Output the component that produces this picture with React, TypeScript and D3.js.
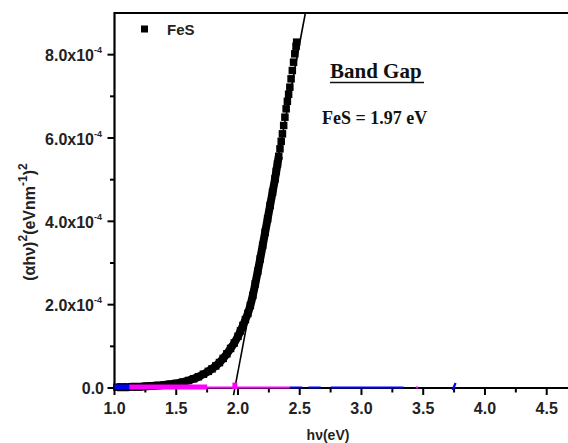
import React from "react";
import * as d3 from "d3";

// ---- data (y values in units of 1e-4) ----
const hv: number[] = [
  1.02, 1.06, 1.1, 1.14, 1.18, 1.2, 1.25, 1.3, 1.35, 1.4, 1.45, 1.5, 1.55, 1.6, 1.64, 1.68,
  1.72, 1.76, 1.79, 1.82, 1.85, 1.88, 1.91, 1.94, 1.97, 2.0, 2.02, 2.04, 2.06, 2.08, 2.1,
  2.12, 2.14, 2.16, 2.18, 2.2, 2.22, 2.24, 2.26, 2.28, 2.3, 2.31, 2.32, 2.33, 2.34, 2.35,
  2.36, 2.37, 2.38, 2.39, 2.4, 2.41, 2.42, 2.43, 2.44, 2.45, 2.46, 2.47, 2.475,
];
const ahv2: number[] = [
  0.02, 0.02, 0.02, 0.03, 0.03, 0.03, 0.04, 0.05, 0.06, 0.07, 0.09, 0.11, 0.14, 0.18, 0.22, 0.27,
  0.33, 0.4, 0.46, 0.53, 0.61, 0.71, 0.82, 0.95, 1.08, 1.24, 1.37, 1.5, 1.64, 1.79, 1.98,
  2.22, 2.5, 2.8, 3.1, 3.42, 3.74, 4.06, 4.38, 4.7, 5.02, 5.2, 5.38, 5.56, 5.74, 5.92,
  6.1, 6.3, 6.5, 6.7, 6.88, 7.05, 7.22, 7.42, 7.62, 7.82, 8.02, 8.2, 8.3,
];

// linear fit (band gap extrapolation)
const fitIntercept = 1.975; // eV
const fitSlope = 15.77; // (x1e-4) per eV
const fitRange: number[] = [-0.17, 9];

// other near-zero traces along baseline [start, end] in eV
const blueThick: number[][] = [[1.0, 1.12]];
const magentaThick: number[][] = [[1.12, 1.75]];
const magentaThin: number[][] = [[1.75, 2.42], [3.44, 3.46]];
const blueThin: number[][] = [[2.42, 2.52], [2.57, 2.67], [2.75, 2.93], [2.93, 3.26], [3.26, 3.34]];
const magentaBumps: number[][] = [[1.955, 1.995, 0.13]];
const blueMarks: number[] = [3.75];

const xMajor: number[] = [1.0, 1.5, 2.0, 2.5, 3.0, 3.5, 4.0, 4.5];
const xMinor: number[] = [1.25, 1.75, 2.25, 2.75, 3.25, 3.75, 4.25];
const yMajor: number[] = [0, 2, 4, 6, 8];
const yMinor: number[] = [1, 3, 5, 7];

const W = 568;
const H = 443;
const SANS = "'Liberation Sans', Arial, sans-serif";
const SERIF = "'Liberation Serif', 'Times New Roman', serif";

export default function App() {
  const x = d3.scaleLinear().domain([1.0, 4.5]).range([114.5, 546.7]);
  const y = d3.scaleLinear().domain([0, 9]).range([388, 13]);
  const x0 = x(1.0);
  const y0 = y(0);
  const yTop = y(9);

  const fitLine = d3
    .line<number>()
    .x((v) => x(fitIntercept + v / fitSlope))
    .y((v) => y(v));

  const pts = hv.map((h, i) => [h, ahv2[i]] as [number, number]);
  const dataLine = d3
    .line<[number, number]>()
    .x((d) => x(d[0]))
    .y((d) => y(d[1]))
    .curve(d3.curveMonotoneX);
  const densePts = pts.filter((d) => d[0] <= 2.33);

  const sq = 7.5;

  return (
    <svg
      width={W}
      height={H}
      style={{ position: "absolute", left: 0, top: 0, background: "#fff" }}
    >
      <rect x={0} y={0} width={W} height={H} fill="#fff" />

      {/* data: dense scan rendered as overlapping squares */}
      <path d={dataLine(densePts) || ""} stroke="#000" strokeWidth={8} fill="none" />
      {pts.map((d, i) => (
        <rect
          key={"d" + i}
          x={x(d[0]) - sq / 2}
          y={y(d[1]) - sq / 2}
          width={sq}
          height={sq}
          fill="#000"
        />
      ))}

      {/* fit line */}
      <path d={fitLine(fitRange) || ""} stroke="#000" strokeWidth={1.6} fill="none" />

      {/* axes */}
      <line x1={x0} x2={W} y1={yTop} y2={yTop} stroke="#000" strokeWidth={2} />
      <line x1={x0} x2={W} y1={y0} y2={y0} stroke="#000" strokeWidth={2.2} />
      <line x1={x0} x2={x0} y1={yTop - 1} y2={y0 + 1} stroke="#000" strokeWidth={2.2} />

      {/* x ticks */}
      {xMajor.map((t) => (
        <g key={"xm" + t}>
          <line x1={x(t)} x2={x(t)} y1={y0} y2={y0 + 7} stroke="#000" strokeWidth={2} />
          <text
            x={x(t)}
            y={y0 + 26}
            textAnchor="middle"
            fontFamily={SANS}
            fontWeight="bold"
            fontSize={16}
            fill="#222"
          >
            {t.toFixed(1)}
          </text>
        </g>
      ))}
      {xMinor.map((t) => (
        <line key={"xn" + t} x1={x(t)} x2={x(t)} y1={y0} y2={y0 + 4.5} stroke="#000" strokeWidth={2} />
      ))}

      {/* y ticks */}
      {yMajor.map((t) => (
        <g key={"ym" + t}>
          <line x1={x0} x2={x0 - 7} y1={y(t)} y2={y(t)} stroke="#000" strokeWidth={2} />
          {t === 0 ? (
            <text
              x={104}
              y={y(t) + 5.5}
              textAnchor="end"
              fontFamily={SANS}
              fontWeight="bold"
              fontSize={16}
              fill="#222"
            >
              0.0
            </text>
          ) : (
            <text
              x={102}
              y={y(t) + 6.5}
              textAnchor="end"
              fontFamily={SANS}
              fontWeight="bold"
              fontSize={16}
              fill="#222"
            >
              {t.toFixed(1) + "x10"}
              <tspan fontSize={9} dy={-8}>
                -4
              </tspan>
            </text>
          )}
        </g>
      ))}
      {yMinor.map((t) => (
        <line key={"yn" + t} x1={x0} x2={x0 - 4.5} y1={y(t)} y2={y(t)} stroke="#000" strokeWidth={2} />
      ))}

      {/* baseline traces */}
      {blueThick.map((s, i) => (
        <rect key={"bt" + i} x={x(s[0])} y={y0 - 3.5} width={x(s[1]) - x(s[0])} height={5} fill="#0000ff" />
      ))}
      {magentaThick.map((s, i) => (
        <rect key={"mt" + i} x={x(s[0])} y={y0 - 3.5} width={x(s[1]) - x(s[0])} height={5} fill="#ff00ff" />
      ))}
      {magentaThin.map((s, i) => (
        <line key={"mn" + i} x1={x(s[0])} x2={x(s[1])} y1={y0 - 0.5} y2={y0 - 0.5} stroke="#ff00ff" strokeWidth={2} />
      ))}
      {blueThin.map((s, i) => (
        <line key={"bn" + i} x1={x(s[0])} x2={x(s[1])} y1={y0 - 0.5} y2={y0 - 0.5} stroke="#0000ff" strokeWidth={2} />
      ))}
      {magentaBumps.map((s, i) => (
        <rect key={"mb" + i} x={x(s[0])} y={y(s[2])} width={x(s[1]) - x(s[0])} height={y0 - y(s[2]) + 1} fill="#ff00ff" />
      ))}
      {blueMarks.map((m, i) => (
        <line key={"bm" + i} x1={x(m) - 1.5} x2={x(m) + 1.5} y1={y0 + 2} y2={y0 - 5} stroke="#0000ff" strokeWidth={2.2} />
      ))}

      {/* legend */}
      <rect x={141} y={25.5} width={7} height={7} fill="#000" />
      <text x={167} y={34.5} fontFamily={SANS} fontWeight="bold" fontSize={15} fill="#222">
        FeS
      </text>

      {/* annotation */}
      <text x={330} y={78} fontFamily={SERIF} fontWeight="bold" fontSize={21} fill="#111">
        Band Gap
      </text>
      <line x1={330} x2={424} y1={82.5} y2={82.5} stroke="#111" strokeWidth={1.5} />
      <text x={322} y={124} fontFamily={SERIF} fontWeight="bold" fontSize={18} fill="#111">
        FeS = 1.97 eV
      </text>

      {/* axis titles */}
      <text
        x={328}
        y={440}
        textAnchor="middle"
        fontFamily={SANS}
        fontWeight="bold"
        fontSize={14}
        fill="#222"
      >
        hν(eV)
      </text>
      <text
        transform={`translate(35, 222) rotate(-90)`}
        textAnchor="middle"
        fontFamily={SANS}
        fontWeight="bold"
        fontSize={16}
        fill="#222"
      >
        (αhν)
        <tspan fontSize={12} dy={-8}>2</tspan>
        <tspan dy={8}>(eVnm</tspan>
        <tspan fontSize={12} dy={-8}>-1</tspan>
        <tspan dy={8}>)</tspan>
        <tspan fontSize={12} dy={-8}>2</tspan>
      </text>
    </svg>
  );
}
